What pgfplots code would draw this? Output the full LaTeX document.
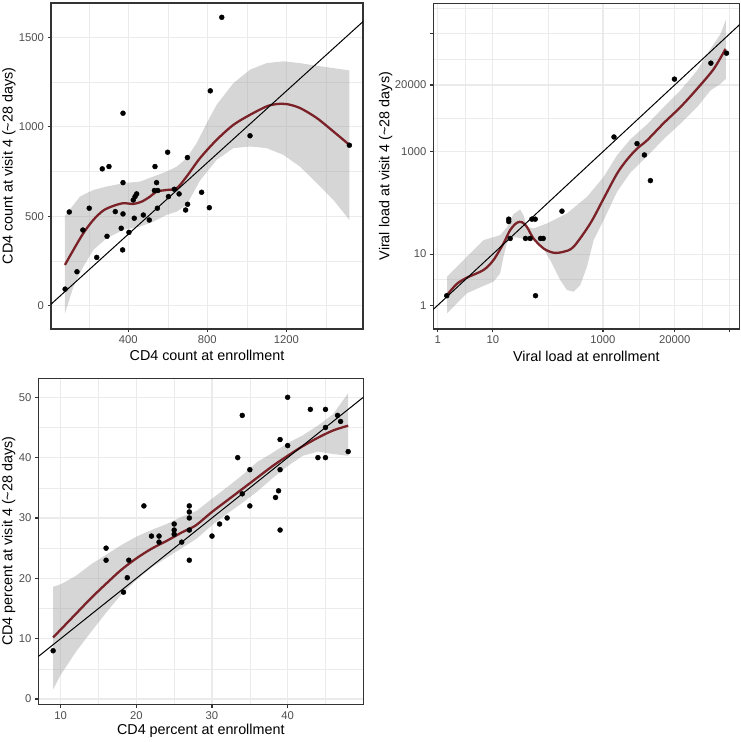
\documentclass[border=0pt]{standalone}
\usepackage{fontspec}
\setmainfont{Liberation Sans}
\usepackage{pgfplots}
\pgfplotsset{compat=1.18}
\definecolor{gridc}{HTML}{EBEBEB}
\definecolor{axc}{HTML}{333333}
\definecolor{tickc}{HTML}{4D4D4D}
\definecolor{loess}{HTML}{7A2228}
\definecolor{grey60}{HTML}{999999}
\pgfplotsset{
  gg/.style={
    scale only axis,
    anchor=south west,
    axis line style={axc, line width=1.1bp},
    grid=both,
    major grid style={gridc, line width=1.1bp},
    minor grid style={gridc, line width=0.55bp},
    tick align=outside,
    tick pos=left,
    major tick length=3.5bp,
    minor tick length=0pt,
    every tick/.append style={axc, line width=1.1bp},
    tick label style={font=\fontsize{11.3}{13}\selectfont, text=tickc},
    label style={font=\fontsize{14.4}{17}\selectfont, text=black},
    xlabel style={anchor=center},
    ylabel style={anchor=center},
  },
  pts/.style={only marks, mark=*, mark size=2.5pt, mark options={draw=none, fill=black}},
  ribfill/.style={fill=grey60, fill opacity=0.4, draw=none, no marks},
  lo/.style={loess, line width=2.3bp, smooth, tension=0.5, no marks},
  diag/.style={black, line width=1.0bp, no marks},
}
\begin{document}
\begin{tikzpicture}
\useasboundingbox (0,0) rectangle (741bp,742bp);

% ---------------- Panel 1: CD4 count ----------------
\begin{axis}[gg, at={(51bp,413bp)}, width=312bp, height=326bp,
  xmin=8.5, xmax=1588, ymin=-130, ymax=1692,
  xtick={400,800,1200}, xticklabels={400,800,1200},
  ytick={0,500,1000,1500}, yticklabels={0,500,1000,1500},
  minor xtick={200,600,1000,1400}, minor ytick={250,750,1250},
  xlabel={CD4 count at enrollment},
  ylabel={CD4 count at visit 4 (\textasciitilde28 days)},
  xlabel style={at={(axis description cs:0.5,-0.082)}},
  ylabel style={at={(axis description cs:-0.135,0.5)}},
]
\addplot[pts] coordinates {
(80,93) (101,524) (140,190) (170,423) (202,545) (240,270) (268,765) (292,388)
(302,778) (334,526) (364,433) (373,1076) (373,688) (373,513) (371,312) (403,410)
(425,591) (434,610) (442,625) (430,489) (476,507) (506,479) (535,778) (543,688)
(532,644) (549,644) (547,545) (599,858) (603,610) (633,651) (657,625) (690,535)
(700,567) (699,828) (771,634) (810,548) (815,1201) (873,1612) (1016,950) (1519,897)
};
\addplot[ribfill] coordinates {
(79,502) (155,610) (223,647) (290,666) (375,685) (459,694) (527,722) (594,750)
(645,778) (695,825) (746,909) (797,1021) (847,1123) (932,1244) (1016,1319)
(1100,1356) (1185,1366) (1269,1356) (1354,1341) (1438,1328) (1519,1315)
(1519,480) (1438,591) (1354,685) (1269,778) (1185,843) (1100,881) (1016,890)
(932,881) (847,815) (763,700) (695,563) (645,526) (594,508) (527,470) (459,442)
(375,424) (290,377) (223,312) (172,218) (122,106) (79,-43)
};
\addplot[lo] coordinates {
(79,228) (122,312) (172,405) (223,480) (273,532) (324,558) (375,573) (425,569)
(468,582) (510,610) (544,638) (594,647) (645,657) (695,722) (763,825) (847,927)
(932,1011) (1016,1067) (1100,1114) (1151,1127) (1202,1127) (1269,1105)
(1354,1049) (1438,974) (1519,899)
};
\addplot[diag] coordinates {(-200,-200) (1800,1800)};
\end{axis}

% ---------------- Panel 2: Viral load ----------------
\begin{axis}[gg, at={(433.3bp,413bp)}, width=306bp, height=325.7bp,
  xmode=log, ymode=log,
  xmin=0.833, xmax=298000, ymin=0.345, ymax=787000,
  xtick={1,10,1000,20000,200000}, xticklabels={1,10,1000,20000,{}},
  ytick={1,10,1000,20000,200000}, yticklabels={1,10,1000,20000,{}},
  minor xtick={3.162,100,4472,63246},
  minor ytick={3.162,100,4472,63246,632456},
  xlabel={Viral load at enrollment},
  ylabel={Viral load at visit 4 (\textasciitilde28 days)},
  xlabel style={at={(axis description cs:0.5,-0.083)}},
  ylabel style={at={(axis description cs:-0.156,0.5)}},
]
\addplot[pts] coordinates {
(1.46,1.54) (19.5,48.1) (19.5,43.3) (20.7,20.2) (39.3,20.2) (47.7,20.2)
(51.2,48.1) (58.9,48.1) (59.7,1.54) (73.6,20.2) (82.3,20.2) (180,68.9)
(1585,1932) (4150,1432) (5649,861) (7256,272) (19815,26040) (90780,53350)
(174600,83560)
};
\addplot[ribfill] coordinates {
(1.479,3.62) (3.368,8.87) (6.76,18.7) (13.6,23.4) (17.98,33.1) (23.8,60.1)
(31.4,74.1) (36.1,57.5) (41.5,34.1) (54.9,31.6) (95.9,39.6) (221,62.0)
(512,130.9) (1028,321) (1798,849) (3141,1738) (6310,3405) (12680,7413)
(25470,15670) (51170,38390) (89480,101400) (135900,199000) (169900,372600)
(169900,26420) (135900,21130) (89480,15670) (51170,7413) (25470,3510)
(12680,1766) (6310,811) (3141,390) (1798,163.8) (1028,45.9) (676,18.7)
(512,5.66) (387,2.49) (293,1.846) (221,1.99) (167.5,3.115) (110.2,7.64)
(72.6,16.14) (63.1,17.7) (41.5,19.3) (27.3,21.1) (20.65,21.1) (17.98,16.14)
(15.63,8.87) (13.6,4.20) (10.28,2.891) (5.89,2.243) (3.368,1.713) (1.479,0.698)
};
\addplot[lo] coordinates {
(1.479,1.589) (2.215,2.604) (3.368,3.459) (6.76,4.88) (10.28,7.64) (15.63,16.14)
(20.65,29.36) (27.3,40.8) (33.7,42.0) (41.5,34.1) (54.9,20.2) (83.4,12.9)
(126.8,10.62) (192.6,11.10) (293,13.9) (588,39.6) (1028,121.4) (1798,372)
(2730,698) (4150,1143) (6310,1663) (12680,3614) (25470,7413) (51170,16870)
(102800,41400) (167500,101400)
};
\addplot[diag] coordinates {(0.5,0.5) (500000,500000)};
\end{axis}

% ---------------- Panel 3: CD4 percent ----------------
\begin{axis}[gg, at={(38.3bp,37.7bp)}, width=325bp, height=326bp,
  xmin=7.04, xmax=50.0, ymin=-0.88, ymax=53.15,
  xtick={10,20,30,40}, xticklabels={10,20,30,40},
  ytick={0,10,20,30,40,50}, yticklabels={0,10,20,30,40,50},
  minor xtick={15,25,35,45}, minor ytick={5,15,25,35,45},
  xlabel={CD4 percent at enrollment},
  ylabel={CD4 percent at visit 4 (\textasciitilde28 days)},
  xlabel style={at={(axis description cs:0.5,-0.081)}},
  ylabel style={at={(axis description cs:-0.091,0.5)}},
]
\addplot[pts] coordinates {
(9,8) (16,25) (16,23) (18.3,17.7) (18.8,20.1) (19,23) (21,32) (22,27) (23,27)
(23,26) (25,29) (25,28) (25,27.3) (26,26) (27,32) (27,31) (27,30) (27,28) (27,23)
(30,27) (31,29) (32,30) (33.4,40) (34,47) (34,34) (35,38) (35,32) (38.4,33.4)
(38.8,34.5) (39,43) (39,38) (39,28) (40,50) (40,42) (43,48) (44,40) (45,48)
(45,45) (45,40) (46.6,47) (47,46) (48,41)
};
\addplot[ribfill] coordinates {
(9,18.6) (10,19.0) (12,20.4) (14,22.3) (16,23.9) (18,25.5) (20,26.9) (22,28.0)
(24,29.0) (26,30.2) (28,31.2) (30,33.2) (32,35.1) (34,37.1) (36,39.3) (38,40.8)
(40,42.4) (42,43.7) (44,45.3) (46,47.2) (48,50.7)
(48,40.3) (46,40.6) (44,41.0) (42,40.3) (40,38.6) (38,36.6) (36,34.4) (34,32.5)
(32,30.7) (30,28.8) (28,26.6) (26,25.0) (24,23.4) (22,21.8) (20,19.7) (18,17.3)
(16,14.3) (14,11.1) (12,7.8) (10,4.0) (9,1.6)
};
\addplot[lo] coordinates {
(9,10.2) (10,11.5) (12,14.1) (14,16.7) (16,19.1) (18,21.4) (20,23.3) (22,24.9)
(24,26.2) (26,27.6) (27,28.2) (28,28.9) (30,31.0) (32,32.9) (34,34.8) (36,36.7)
(38,38.6) (40,40.3) (42,41.9) (44,43.3) (46,44.5) (48,45.3)
};
\addplot[diag] coordinates {(0,0) (60,60)};
\end{axis}
\end{tikzpicture}
\end{document}
